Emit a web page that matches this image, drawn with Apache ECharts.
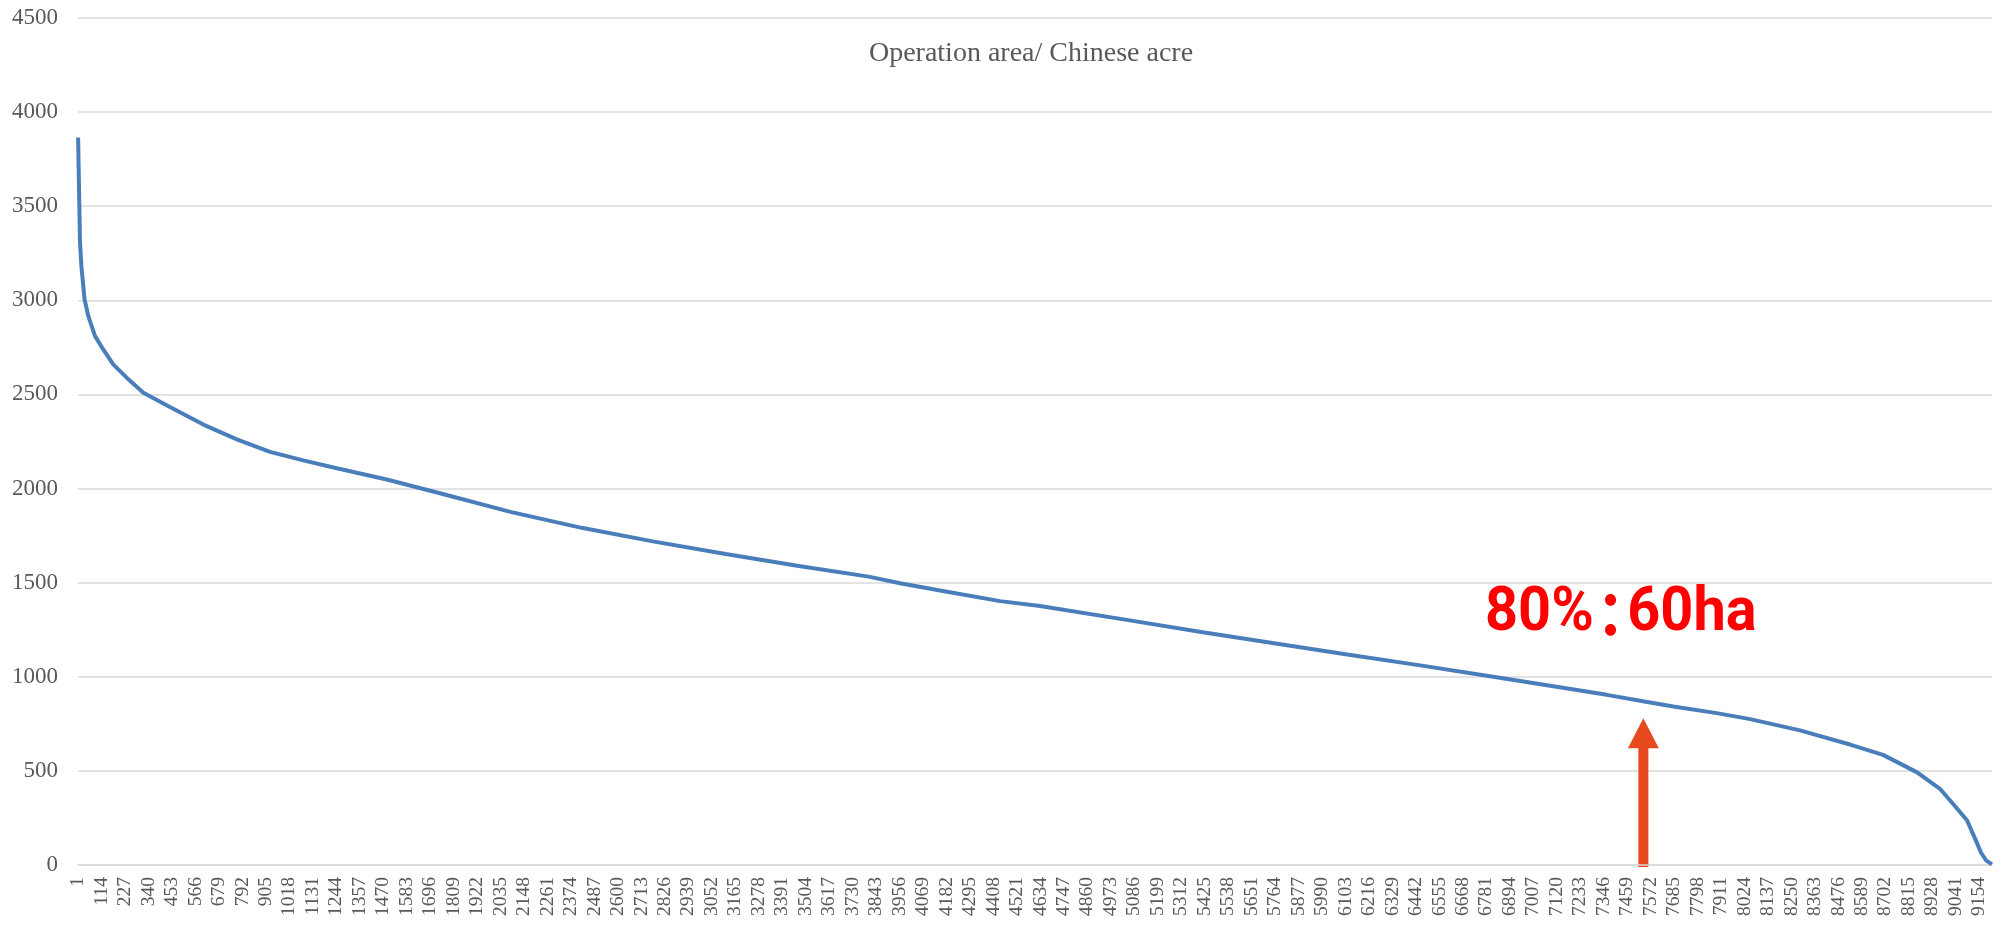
<!doctype html>
<html>
<head>
<meta charset="utf-8">
<title>Operation area</title>
<style>
html,body{margin:0;padding:0;background:#fff;}
#chart{width:2006px;height:925px;}
</style>
<script src="https://cdn.jsdelivr.net/npm/echarts@6/dist/echarts.min.js"></script>
</head>
<body>
<div id="chart"></div>
<script>
// farms ranked by size, 1 .. farmCount on the x axis
var farmCount = 9215;
var labelEvery = 113;

// ranks where the curve was read, and the area (mu) at each
var sampleRanks = [1, 7, 10, 17, 32, 50, 82, 122, 170, 235,
    315, 443, 604, 765, 925, 1085, 1246, 1487, 1743, 2087,
    2431, 2775, 3119, 3463, 3807, 3958, 4151, 4440, 4632, 5079,
    5423, 5767, 6111, 6455, 6799, 7088, 7361, 7535, 7681, 7890,
    8051, 8291, 8532, 8691, 8855, 8965, 9047, 9095, 9134, 9163,
    9187, 9215];
var areaValues = [3865, 3500, 3310, 3180, 3005, 2917, 2811, 2739, 2660, 2589,
    2509, 2433, 2340, 2261, 2195, 2150, 2108, 2048, 1975, 1875,
    1790, 1718, 1652, 1590, 1532, 1497, 1458, 1402, 1376, 1297,
    1235, 1177, 1118, 1062, 1003, 952, 904, 870, 842, 807,
    775, 715, 640, 585, 492, 405, 300, 238, 140, 65,
    25, 3];

var yMax = 4500, yStep = 500;
var titleText = 'Operation area/ Chinese acre';
var noteLeft = '80%', noteColon = '：', noteRight = '60ha';
// the arrow stands at this rank and reaches up to this area
var arrowRank = 7537, arrowTop = 780;

var categories = [];
for (var i = 1; i <= farmCount; i++) categories.push(String(i));

var lineData = sampleRanks.map(function(r, i) {
    return [String(r), areaValues[i]];
});

var myChart = echarts.init(document.getElementById('chart'));
var serif = '"Liberation Serif", "Times New Roman", serif';

myChart.setOption({
    animation: false,
    backgroundColor: '#fff',
    grid: { left: 78, right: 14, top: 18, bottom: 60 },
    xAxis: {
        type: 'category',
        data: categories,
        boundaryGap: true,
        axisLine: { show: true, lineStyle: { color: '#d9d9d9', width: 1.5 } },
        axisTick: { show: false },
        axisLabel: {
            interval: labelEvery - 1,
            rotate: 90,
            margin: 12,
            fontSize: 19.5,
            fontFamily: serif,
            color: '#595959'
        },
        splitLine: { show: false }
    },
    yAxis: {
        type: 'value',
        min: 0,
        max: yMax,
        interval: yStep,
        axisLine: { show: false },
        axisTick: { show: false },
        axisLabel: {
            fontSize: 23, fontFamily: serif, color: '#595959', margin: 20,
            formatter: function(v) { return String(v); }
        },
        splitLine: { lineStyle: { color: '#d9d9d9', width: 1.5 } }
    },
    series: [{
        type: 'line',
        data: lineData,
        showSymbol: false,
        smooth: false,
        lineStyle: { color: '#4a7ebb', width: 4 },
        itemStyle: { color: '#4a7ebb' }
    }]
});

// arrow under the note, placed through the axes
var tip = myChart.convertToPixel({ gridIndex: 0 }, [String(arrowRank), arrowTop]);
var base = myChart.convertToPixel({ gridIndex: 0 }, [String(arrowRank), 0]);
var cx = tip[0], headH = 30, headW = 15.5, shaftW = 5;
var arrowPts = [
    [cx - shaftW, base[1] + 2], [cx - shaftW, tip[1] + headH],
    [cx - headW, tip[1] + headH], [cx, tip[1]],
    [cx + headW, tip[1] + headH], [cx + shaftW, tip[1] + headH],
    [cx + shaftW, base[1] + 2]
];

var noteFont = 'bold 62px Roboto, "Liberation Sans", sans-serif';
var colonFont = 'bold 62px "Noto Sans CJK TC", sans-serif';

myChart.setOption({
    graphic: [
        {
            type: 'text',
            x: 1031, y: 54,
            style: {
                text: titleText,
                font: '28px ' + serif,
                fill: '#595959',
                align: 'center', verticalAlign: 'middle',
                textAlign: 'center', textVerticalAlign: 'middle'
            }
        },
        {
            type: 'text',
            x: 1485, y: 614,
            scaleX: 0.93,
            style: {
                text: '{n|' + noteLeft + '}{c|' + noteColon + '}{n|' + noteRight + '}',
                align: 'left', verticalAlign: 'middle',
                textAlign: 'left', textVerticalAlign: 'middle',
                rich: {
                    n: { font: noteFont, fill: '#ff0000', color: '#ff0000' },
                    c: { font: colonFont, fill: '#ff0000', color: '#ff0000', width: 36, align: 'center' }
                }
            }
        },
        {
            type: 'polygon',
            shape: { points: arrowPts },
            style: { fill: '#e64a1e' }
        }
    ]
});
</script>
</body>
</html>
